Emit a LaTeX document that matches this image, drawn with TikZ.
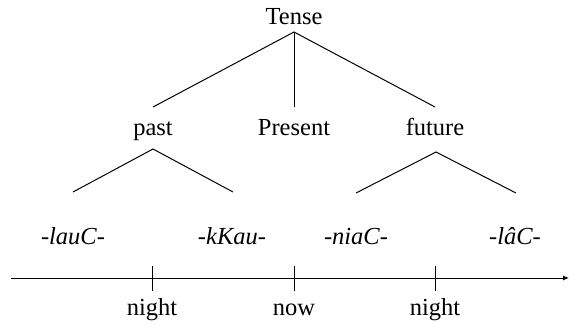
\documentclass[tikz,border=0pt]{standalone}
\usepackage{fontspec}
\setmainfont{Liberation Serif}
\usetikzlibrary{arrows.meta}
\begin{document}
\begin{tikzpicture}[x=1pt,y=-1pt,
  lbl/.style={font=\fontsize{24.5}{28}\selectfont, inner sep=0pt, anchor=base},
  morph/.style={lbl, font=\fontsize{24.5}{28}\selectfont\itshape},
  branch/.style={line width=1pt},
  axis/.style={line width=1pt, -{Latex[length=6pt,width=5pt]}}]
\useasboundingbox (0,0) rectangle (569,324);
% category labels
\node[lbl] (tense) at (294,24) {Tense};
\node[lbl] (past) at (153,135) {past};
\node[lbl] (present) at (294,135) {Present};
\node[lbl] (future) at (435,135) {future};
% tree joints
\coordinate (tenseJ) at (294,32);
\coordinate (pastT) at (153,107);
\coordinate (presT) at (294,107);
\coordinate (futT) at (435,107);
\coordinate (pastJ) at (153,149);
\coordinate (pastL) at (73,192);
\coordinate (pastR) at (233,192);
\coordinate (futJ) at (436,152);
\coordinate (futL) at (356,193);
\coordinate (futR) at (516,193);
\draw[branch] (pastT) -- (tenseJ) -- (futT);
\draw[branch] (tenseJ) -- (presT);
\draw[branch] (pastL) -- (pastJ) -- (pastR);
\draw[branch] (futL) -- (futJ) -- (futR);
% morphemes
\node[morph] (lauC) at (73,244) {-lauC-};
\node[morph] (kKau) at (232,244) {-kKau-};
\node[morph] (niaC) at (356,244) {-niaC-};
\node[morph] (laC) at (515,244) {-lâC-};
% time axis
\coordinate (axL) at (11,278);
\coordinate (axR) at (569,278);
\draw[axis] (axL) -- (axR);
\foreach \n/\x in {t1/152, t2/294, t3/435}{
  \coordinate (\n a) at (\x,266);
  \coordinate (\n b) at (\x,291);
  \draw[branch] (\n a) -- (\n b);
}
\node[lbl] (night1) at (152,315) {night};
\node[lbl] (now) at (294,315) {now};
\node[lbl] (night2) at (435,315) {night};
\end{tikzpicture}
\end{document}
